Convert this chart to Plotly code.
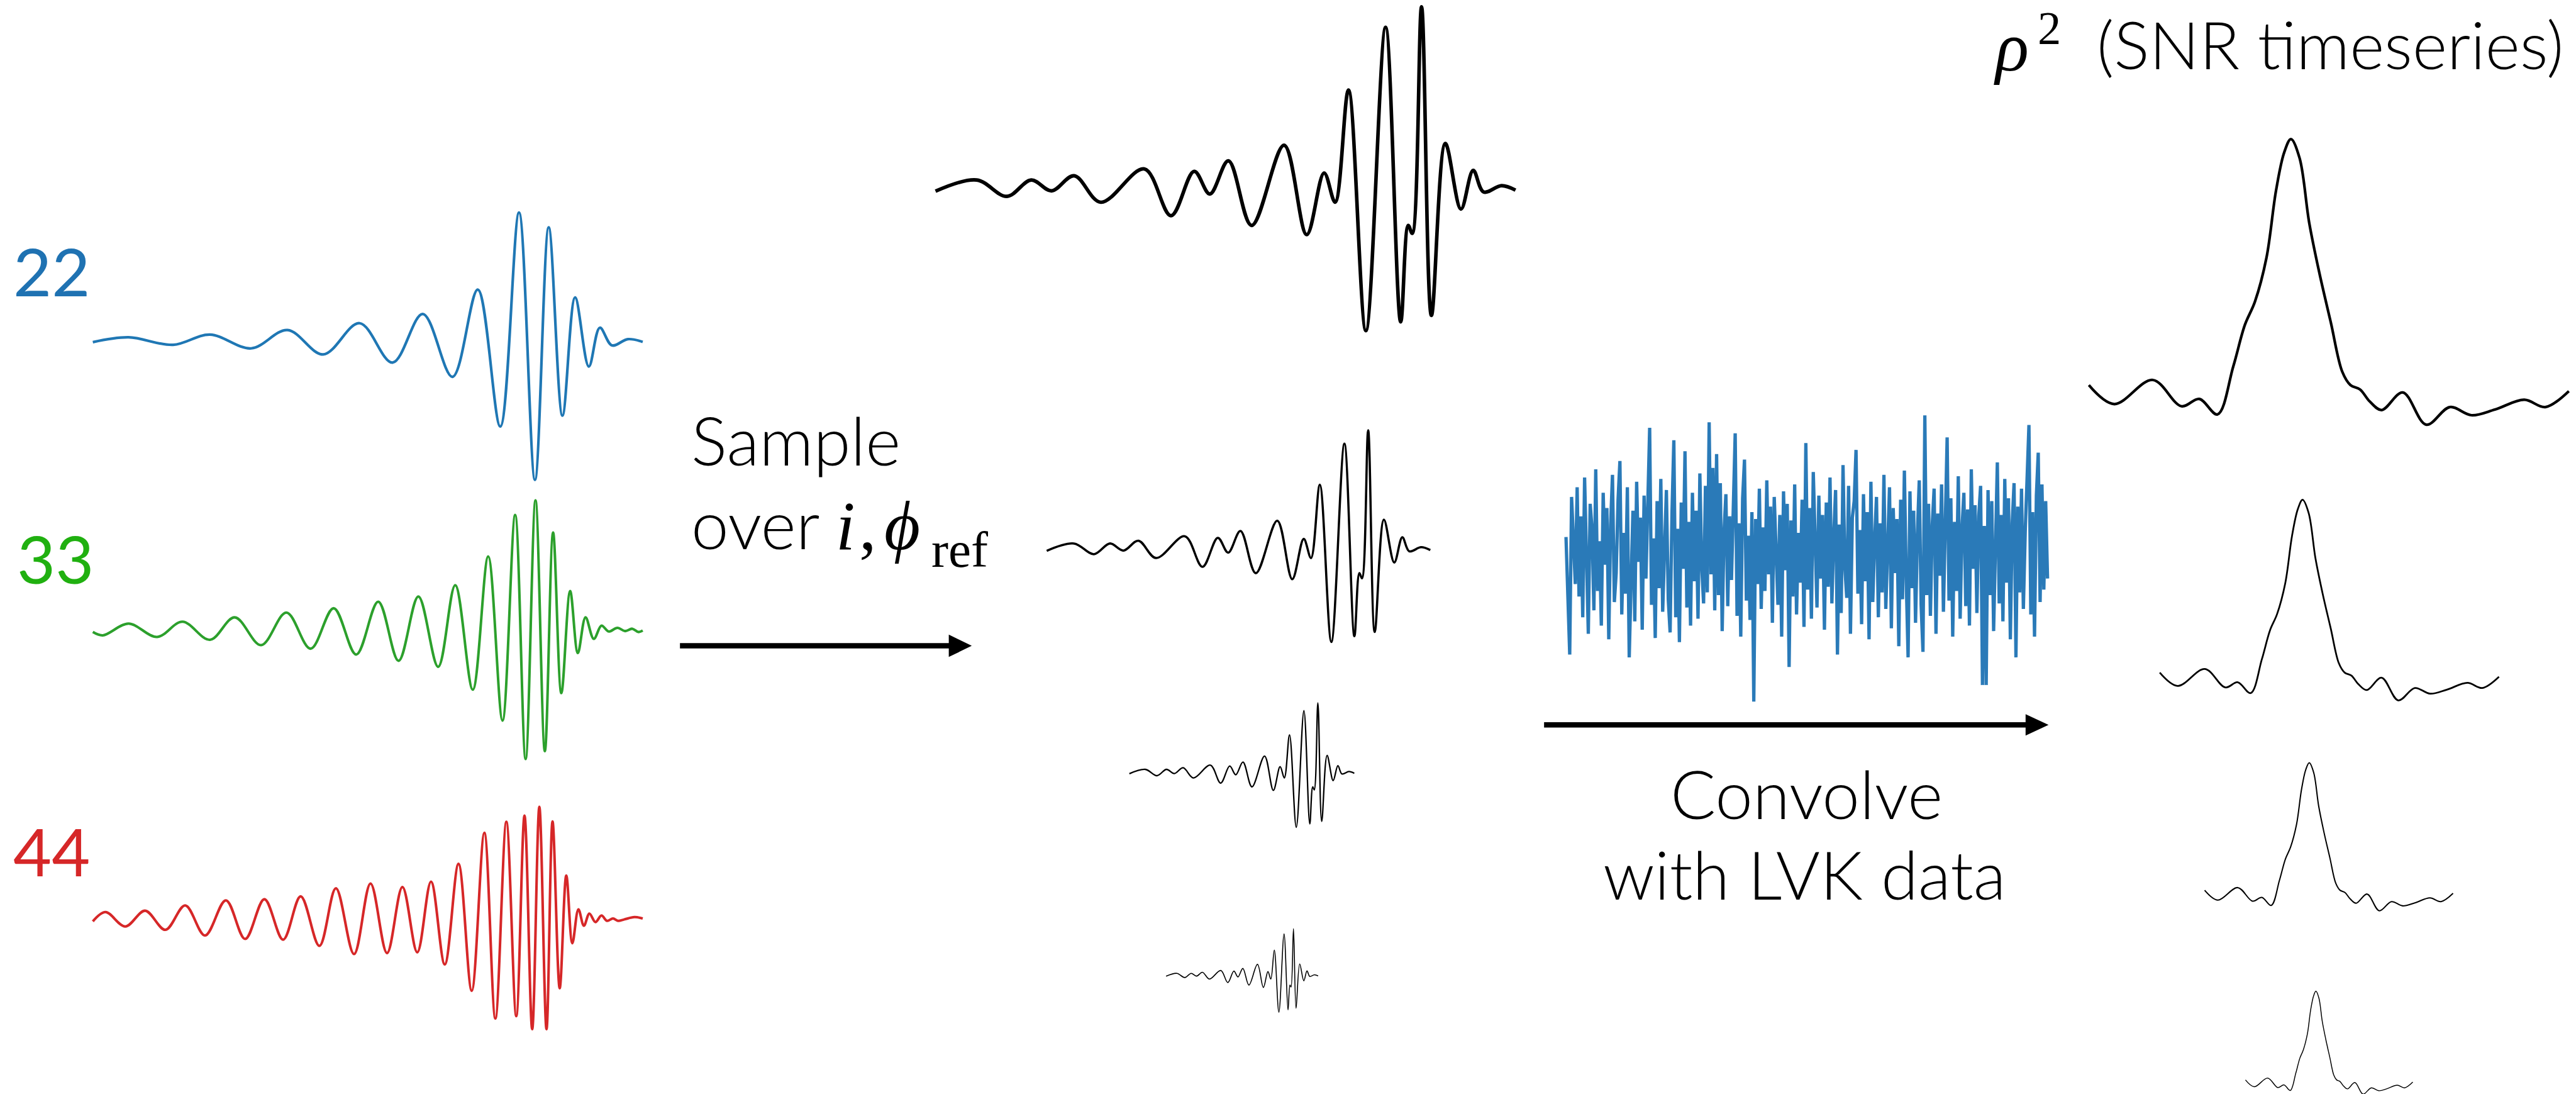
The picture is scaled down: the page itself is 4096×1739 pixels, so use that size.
import plotly.graph_objects as go

W_REF, H_REF = 5050, 2144
SC = 4096 / 5050

# ---------------- data ----------------
# (2,2) mode waveform: time (arb. units) and strain (normalised)
mode22_t = [0, 6.5, 14.6, 21.3, 28.8, 35.4, 41.9, 48.5, 54.5, 60.0, 65.4, 70.0, 74.1, 77.5,
            80.4, 82.9, 85.4, 87.7, 90.2, 92.2, 94.4, 97.3, 100]
mode22_h = [0.0, 0.037, -0.021, 0.058, -0.048, 0.093, -0.095, 0.146, -0.158, 0.217, -0.268,
            0.405, -0.651, 1.0, -1.063, 0.886, -0.567, 0.345, -0.188, 0.111, -0.025, 0.023, 0.002]

# (3,3) mode waveform
mode33_t = [0, 1.8, 6.5, 11.7, 16.3, 21.3, 25.8, 30.6, 35.2, 39.6, 43.8, 47.9, 51.9, 55.6,
            59.2, 62.8, 65.9, 69.1, 71.9, 74.5, 76.8, 78.7, 80.5, 82.2, 83.7, 85.2, 86.8,
            88.2, 89.6, 91.1, 92.5, 93.8, 95.4, 96.8, 98.1, 99.2, 100]
mode33_h = [-0.010, -0.036, 0.054, -0.048, 0.069, -0.070, 0.102, -0.111, 0.139, -0.138, 0.172,
            -0.183, 0.222, -0.231, 0.262, -0.277, 0.349, -0.452, 0.569, -0.689, 0.888, -0.984,
            1.0, -0.924, 0.753, -0.479, 0.304, -0.171, 0.102, -0.063, 0.039, -0.006, 0.022,
            -0.003, 0.015, -0.010, 0.001]

# (4,4) mode waveform
mode44_t = [0, 2.3, 5.9, 9.5, 13.2, 16.8, 20.4, 24.2, 27.7, 31.2, 34.6, 37.8, 41.2, 44.2,
            47.5, 50.5, 53.5, 56.3, 59.0, 61.5, 64.0, 66.5, 68.9, 71.2, 73.2, 75.2, 77.0,
            78.5, 79.9, 81.2, 82.5, 83.6, 84.9, 86.1, 87.2, 88.3, 89.3, 90.3, 91.4, 92.5,
            93.5, 94.6, 95.5, 96.6, 98.5, 100]
mode44_h = [-0.017, 0.066, -0.062, 0.078, -0.092, 0.125, -0.142, 0.170, -0.173, 0.180, -0.179,
            0.205, -0.234, 0.277, -0.307, 0.319, -0.298, 0.288, -0.291, 0.336, -0.399, 0.494,
            -0.633, 0.770, -0.879, 0.867, -0.858, 0.922, -0.974, 1.0, -0.974, 0.870, -0.610,
            0.390, -0.211, 0.090, -0.055, 0.052, -0.023, 0.035, -0.012, 0.009, -0.012, 0.0,
            0.021, 0.009]

# combined waveform sampled over inclination / reference phase
sample_t = [0, 7.1, 12.3, 16.5, 20.0, 23.9, 28.5, 36.0, 40.6, 44.6, 47.3, 50.5, 54.5, 60.1,
            64.0, 67.0, 68.9, 71.2, 74.2, 77.6, 80.2, 81.5, 82.2, 83.8, 85.5, 87.9, 90.6,
            92.7, 94.5, 97.6, 100]
sample_h = [-0.002, 0.059, -0.030, 0.059, 0.0, 0.082, -0.062, 0.119, -0.135, 0.106, -0.017,
            0.163, -0.188, 0.248, -0.238, 0.097, -0.062, 0.548, -0.760, 0.889, -0.712, -0.188,
            -0.231, 1.0, -0.677, 0.257, -0.099, 0.111, -0.006, 0.028, 0.004]

# detector noise (LVK data)
noise_v = [
    0.12, -0.38, -0.73, 0.41, 0.05, -0.22, 0.48, -0.31, 0.27, -0.46, 0.55, -0.12, -0.58, 0.36, 0.18, -0.41, 0.61, -0.27, 0.09, -0.52,
    0.44, -0.08, 0.33, -0.62, 0.21, 0.57, -0.35, -0.14, 0.39, 0.67, -0.44, 0.15, -0.29, 0.48, -0.75, -0.21, 0.31, -0.49, 0.52, -0.06,
    0.26, -0.55, 0.42, -0.18, 0.35, 0.91, -0.37, 0.11, -0.61, 0.38, -0.25, 0.54, -0.42, 0.07, 0.46, -0.33, -0.57, 0.29, 0.82, -0.46,
    0.18, -0.64, 0.37, -0.11, 0.74, -0.39, 0.23, -0.52, 0.44, -0.20, 0.31, -0.47, 0.58, -0.09, -0.36, 0.49, -0.28, 0.95, -0.15, 0.62,
    -0.41, 0.72, -0.30, 0.51, -0.56, 0.16, 0.43, -0.38, 0.27, -0.19, 0.35, 0.87, -0.45, 0.22, -0.60, 0.40, 0.68, -0.34, 0.13, -0.48,
    0.30, -1.07, 0.25, -0.22, 0.47, -0.40, 0.19, -0.27, 0.53, -0.15, 0.34, -0.50, 0.41, 0.08, -0.37, 0.28, -0.60, 0.45, -0.12, 0.36,
    -0.82, 0.24, -0.31, 0.50, -0.44, 0.15, -0.21, 0.39, -0.53, 0.80, -0.26, 0.33, -0.47, 0.59, 0.04, -0.39, 0.42, -0.18, 0.28, -0.55,
    0.37, -0.24, 0.55, -0.36, 0.12, 0.46, -0.73, 0.21, -0.43, 0.64, -0.10, -0.32, 0.49, -0.58, 0.26, 0.38, 0.75, -0.29, 0.17, -0.51,
    0.43, -0.20, 0.30, -0.62, 0.52, -0.35, 0.09, 0.41, -0.46, 0.22, -0.28, 0.57, -0.40, 0.16, 0.48, -0.54, 0.33, -0.14, 0.25, -0.67,
    0.39, -0.33, 0.60, -0.19, -0.75, 0.45, -0.25, 0.31, -0.50, 0.14, 0.53, -0.37, -0.71, 1.00, -0.30, 0.36, -0.45, 0.21, 0.47, -0.58,
    0.29, -0.16, 0.50, -0.42, 0.10, 0.84, -0.34, 0.40, -0.60, 0.23, -0.27, 0.56, -0.47, 0.18, 0.44, -0.38, 0.32, -0.52, 0.61, -0.11,
    0.35, -0.43, 0.27, 0.49, -0.95, 0.20, -0.95, 0.46, -0.30, 0.38, -0.56, 0.13, 0.66, -0.36, 0.28, -0.49, 0.54, -0.21, 0.40, -0.62,
    0.22, 0.51, -0.75, 0.34, -0.28, 0.47, -0.40, 0.16, 0.58, 0.93, -0.44, 0.30, -0.60, 0.42, 0.73, -0.35, 0.50, -0.26, 0.38, -0.18,
]
noise_t = list(range(len(noise_v)))

# SNR time series rho^2 (normalised)
snr_t = [0, 5.3, 13.3, 19.3, 23.0, 26.8, 30.1, 32.5, 34.6, 37.0, 39.0, 40.7, 42.1, 43.9, 45.9,
         48.0, 50.4, 52.8, 54.5, 56.5, 58.5, 61.0, 65.4, 70.3, 75.2, 79.7, 84.6, 90.7, 95.1, 100]
snr_r = [0.092, 0.022, 0.111, 0.014, 0.041, -0.016, 0.162, 0.314, 0.400, 0.562, 0.811, 0.951,
         1.0, 0.930, 0.692, 0.508, 0.324, 0.141, 0.092, 0.076, 0.032, 0.0, 0.065, -0.054, 0.011,
         -0.019, 0.002, 0.038, 0.011, 0.070]

mode_labels = ["22", "33", "44"]

# ---------------- figure ----------------
fig = go.Figure()
layout_axes = {}
panel_count = [0]


def add_panel(t, v, x0, x1, base, unit, color, lw, shape="spline"):
    panel_count[0] += 1
    k = panel_count[0]
    sfx = "" if k == 1 else str(k)
    pad = 40
    tmin, tmax = min(t), max(t)
    tpp = (tmax - tmin) / (x1 - x0)
    xd0 = max(0, x0 - pad)
    xd1 = min(W_REF, x1 + pad)
    xr = [tmin - (x0 - xd0) * tpp, tmax + (xd1 - x1) * tpp]
    vmin, vmax = min(v), max(v)
    ytop = max(0, base - vmax * unit - pad)
    ybot = min(H_REF, base - vmin * unit + pad)
    yr = [(base - ybot) / unit, (base - ytop) / unit]
    fig.add_trace(go.Scatter(
        x=t, y=v, mode="lines",
        line=dict(color=color, width=lw * SC, shape=shape, smoothing=1.0),
        xaxis="x" + sfx, yaxis="y" + sfx, hoverinfo="skip", showlegend=False))
    layout_axes["xaxis" + sfx] = dict(domain=[xd0 / W_REF, xd1 / W_REF], range=xr,
                                      visible=False, fixedrange=True, anchor="y" + sfx)
    layout_axes["yaxis" + sfx] = dict(domain=[1 - ybot / H_REF, 1 - ytop / H_REF], range=yr,
                                      visible=False, fixedrange=True, anchor="x" + sfx)


# left: individual modes
add_panel(mode22_t, mode22_h, 182, 1260, 670.5, 254, "#1f77b4", 5.2)
add_panel(mode33_t, mode33_h, 182, 1260, 1236, 255.6, "#2ca02c", 5.0)
add_panel(mode44_t, mode44_h, 182, 1260, 1802, 220.8, "#d62728", 5.0)

# middle: sampled waveforms
add_panel(sample_t, sample_h, 1834, 2971, 374, 360.7, "#000000", 7.0)
add_panel(sample_t, sample_h, 2052, 2804, 1079, 235.6, "#000000", 4.4)
add_panel(sample_t, sample_h, 2214, 2655, 1516, 138.5, "#000000", 2.8)
add_panel(sample_t, sample_h, 2286, 2584, 1913, 93, "#000000", 2.0)

# noise
add_panel(noise_t, noise_v, 3070, 4014, 1085, 271, "#2a7ab8", 6.5, shape="linear")

# right: SNR time series
add_panel(snr_t, snr_r, 4095, 5036, 803.6, 531, "#000000", 5.2)
add_panel(snr_t, snr_r, 4234, 4899, 1352.4, 373, "#000000", 3.4)
add_panel(snr_t, snr_r, 4322, 4809, 1770, 275, "#000000", 2.5)
add_panel(snr_t, snr_r, 4402, 4730, 2134, 191.5, "#000000", 1.8)

# ---------------- text ----------------
annotations = []


def label(text, X, Ybase, fs_full, family="Lato", color="#000000", anchor="left",
          weight=300, style="normal", desc=0.213):
    ybottom = Ybase + desc * fs_full
    annotations.append(dict(
        text=text, x=X / W_REF, y=1 - ybottom / H_REF, xref="paper", yref="paper",
        xanchor=anchor, yanchor="bottom", showarrow=False, borderpad=0, borderwidth=0,
        font=dict(family=family, size=fs_full * SC, color=color, weight=weight, style=style)))


label(mode_labels[0], 26, 580, 130, color="#1f72b2", weight=400)
label(mode_labels[1], 33, 1143, 130, color="#20b010", weight=400)
label(mode_labels[2], 26, 1717, 130, color="#d62728", weight=400)

label("Sample", 1355, 913, 132)
label("over", 1355, 1077, 132)
SERIF = "Liberation Serif"
label("i", 1638, 1077, 136, family=SERIF, weight=300, style="italic", desc=0.216)
label(",", 1684, 1077, 136, family=SERIF, weight=400, desc=0.216)
label("\u03d5", 1734, 1077, 136, family=SERIF, weight=300, style="italic", desc=0.216)
label("ref", 1826, 1112, 100, family=SERIF, weight=400, desc=0.216)

label("Convolve", 3542, 1606, 132, anchor="center")
label("with LVK data", 3538, 1763, 132, anchor="center")

label("\u03c1", 3908, 138, 136, family=SERIF, weight=300, style="italic", desc=0.216)
label("2", 3995, 86, 92, family=SERIF, weight=400, desc=0.216)
label("(SNR timeseries)", 5025, 135, 130, anchor="right")

# ---------------- arrows ----------------
shapes = []


def arrow(xa, xb, y, lw, head_len, head_half):
    shapes.append(dict(type="line", xref="paper", yref="paper",
                       x0=xa / W_REF, x1=(xb - head_len + 4) / W_REF,
                       y0=1 - y / H_REF, y1=1 - y / H_REF,
                       line=dict(color="black", width=lw * SC)))
    bx = xb - head_len
    path = "M {:.6f} {:.6f} L {:.6f} {:.6f} L {:.6f} {:.6f} Z".format(
        bx / W_REF, 1 - (y - head_half) / H_REF,
        xb / W_REF, 1 - y / H_REF,
        bx / W_REF, 1 - (y + head_half) / H_REF)
    shapes.append(dict(type="path", xref="paper", yref="paper", path=path,
                       fillcolor="black", line=dict(color="black", width=0)))


arrow(1333, 1905, 1265.6, 10.5, 45, 22)
arrow(3027, 4016, 1420.6, 10.5, 45, 21)

fig.update_layout(
    width=4096, height=1739, autosize=False,
    margin=dict(l=0, r=0, t=0, b=0, pad=0),
    paper_bgcolor="white", plot_bgcolor="rgba(0,0,0,0)",
    showlegend=False, annotations=annotations, shapes=shapes,
    **layout_axes)

fig.write_html("out.html")
